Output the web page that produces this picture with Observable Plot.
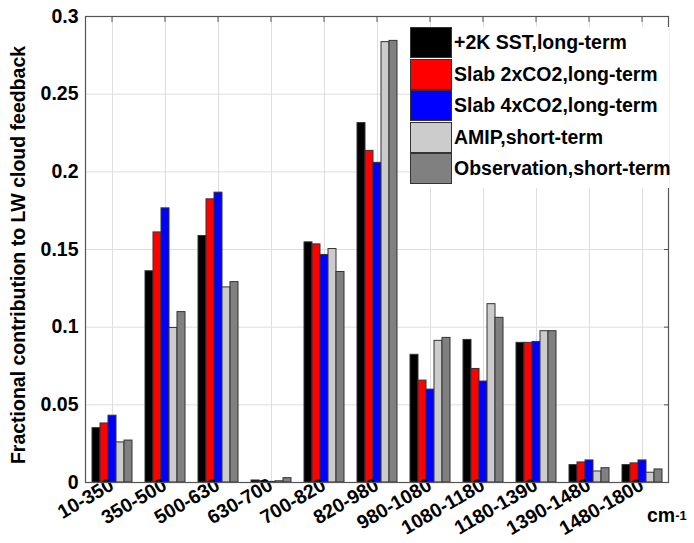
<!DOCTYPE html>
<html>
<head>
<meta charset="utf-8">
<script src="https://cdn.jsdelivr.net/npm/d3@7"></script>
<script src="https://cdn.jsdelivr.net/npm/@observablehq/plot@0.6"></script>
<style>
  html, body { margin: 0; padding: 0; background: #fff; }
  #wrap { position: relative; width: 694px; height: 543px; font-family: "Liberation Sans", Arial, sans-serif; font-weight: bold; }
  #legend { position: absolute; left: 410px; top: 27px; width: 259px; height: 161px; background: #fff; z-index: 2; }
  .row { display: flex; align-items: center; height: 31.5px; }
  .sw { width: 40px; height: 29px; border: 1px solid #333; margin-right: 2px; flex: none; }
  .lt { font-size: 19.5px; color: #000; white-space: nowrap; }
  #unit { position: absolute; left: 647px; top: 504px; font-size: 19.5px; line-height: 22px; z-index: 2; }
  #unit sup { font-size: 13px; position: relative; top: -2px; vertical-align: baseline; }
  #ylab { position: absolute; left: -231.7px; top: 245px; width: 500px; height: 20px; line-height: 20px; text-align: center; font-size: 19.5px; transform: rotate(-90deg); transform-origin: 50% 50%; z-index: 2; white-space: nowrap; }
</style>
</head>
<body>
<div id="wrap">
  <div id="chart"></div>
  <div id="legend"></div>
  <div id="ylab"></div>
  <div id="unit">cm<sup>-1</sup></div>
</div>
<script>
const categories = ["10-350","350-500","500-630","630-700","700-820","820-980","980-1080","1080-1180","1180-1390","1390-1480","1480-1800"];
const seriesNames = ["+2K SST,long-term","Slab 2xCO2,long-term","Slab 4xCO2,long-term","AMIP,short-term","Observation,short-term"];
const seriesColors = ["#000000","#ff0000","#0000ff","#cccccc","#808080"];
const sst2K  = [0.035, 0.136, 0.1587, 0.0013, 0.1546, 0.2314, 0.0822, 0.0918, 0.0899, 0.0112, 0.0112];
const slab2x = [0.038, 0.161, 0.1823, 0.0009, 0.1533, 0.2135, 0.0656, 0.0731, 0.0899, 0.0129, 0.0123];
const slab4x = [0.043, 0.1765, 0.1866, 0.0004, 0.1465, 0.2058, 0.0598, 0.065, 0.0905, 0.0142, 0.0142];
const amip   = [0.0258, 0.0995, 0.1256, 0.0008, 0.1503, 0.2835, 0.0912, 0.1148, 0.0974, 0.0071, 0.0063];
const obs    = [0.027, 0.1097, 0.129, 0.0028, 0.1355, 0.2843, 0.0931, 0.106, 0.0974, 0.0092, 0.0084];
const yTicks = [0, 0.05, 0.1, 0.15, 0.2, 0.25, 0.3];
const yLabel = "Fractional contribution to LW cloud feedback";

const seriesValues = [sst2K, slab2x, slab4x, amip, obs];
const rows = [];
categories.forEach((c, i) => {
  seriesNames.forEach((s, j) => rows.push({cat: c, series: s, value: seriesValues[j][i]}));
});

const chart = Plot.plot({
  width: 694,
  height: 543,
  marginLeft: 82,
  marginRight: 23,
  marginTop: 16,
  marginBottom: 61,
  style: {fontFamily: "'Liberation Sans', Arial, sans-serif", fontWeight: "bold", fontSize: "19.5px", color: "#000", background: "#fff"},
  fx: {domain: categories, padding: 0, label: null, axis: null},
  x: {domain: seriesNames, paddingInner: 0, paddingOuter: 0.685, axis: null},
  y: {domain: [0, 0.3], label: null, axis: null},
  color: {domain: seriesNames, range: seriesColors},
  marks: [
    Plot.gridY(yTicks, {stroke: "#dedede", strokeOpacity: 1}),
    Plot.ruleX([seriesNames[2]], {stroke: "#dedede", strokeOpacity: 1}),
    Plot.axisY(yTicks, {anchor: "right", tickSize: -5, tickFormat: () => "", label: null, stroke: "#555"}),
    Plot.axisFx({anchor: "top", tickSize: -5, tickFormat: () => "", label: null, stroke: "#555"}),
    Plot.barY(rows, {fx: "cat", x: "series", y: "value", fill: "series", stroke: "#333", strokeWidth: 1}),
    Plot.axisY(yTicks, {tickSize: 0, tickPadding: 7, tickFormat: d => String(d), label: null, fontSize: 19.5}),
    Plot.axisFx({anchor: "bottom", tickRotate: -30, tickSize: 0, tickPadding: 1, label: null, fontSize: 19.5}),
    Plot.frame({facet: "super", stroke: "#555", strokeWidth: 1.2})
  ]
});
document.getElementById("chart").appendChild(chart);
document.getElementById("ylab").textContent = yLabel;

const legend = document.getElementById("legend");
seriesNames.forEach((s, j) => {
  const r = document.createElement("div");
  r.className = "row";
  const sw = document.createElement("div");
  sw.className = "sw";
  sw.style.background = seriesColors[j];
  const t = document.createElement("span");
  t.className = "lt";
  t.textContent = s;
  r.appendChild(sw); r.appendChild(t);
  legend.appendChild(r);
});
</script>
</body>
</html>
